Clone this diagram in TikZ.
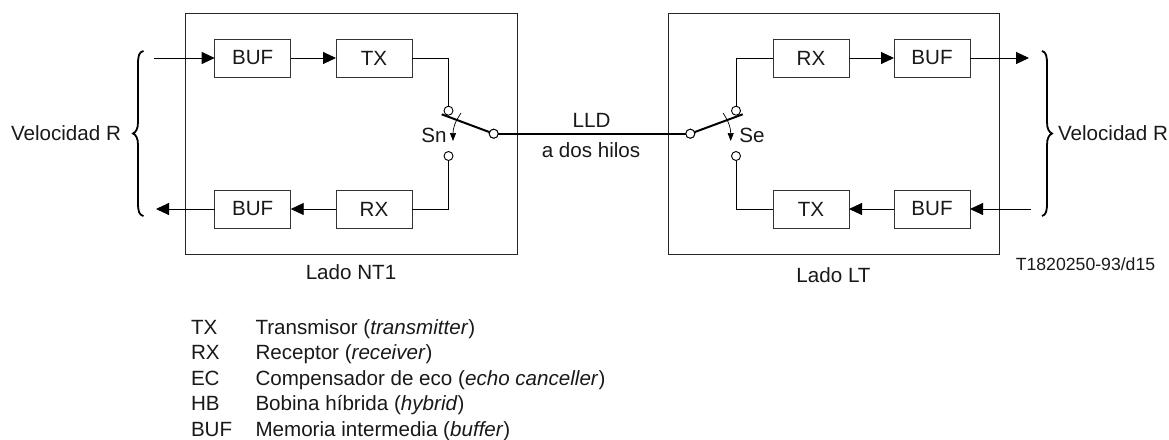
\documentclass[tikz,border=0pt]{standalone}
\usepackage{fontspec}
\setmainfont{Liberation Sans}
\usetikzlibrary{arrows.meta,calc}
\tikzset{
 x=1pt,y=-1pt,
 every node/.style={inner sep=0pt,outer sep=0pt,text=black!90},
 lab/.style={font=\fontsize{20.6}{24}\selectfont},
 frame/.style={draw=black!85,line width=.9pt},
 unit/.style={draw=black!80,line width=.9pt,minimum width=76pt,minimum height=38pt,font=\fontsize{20.6}{24}\selectfont},
 wire/.style={draw=black,line width=.9pt},
 flow/.style={wire,-{Triangle[length=13pt,width=12pt]}},
 blade/.style={draw=black,line width=2pt},
 contact/.style={circle,draw=black,fill=white,line width=.9pt,minimum size=9pt},
 actuate/.style={draw=black,line width=.7pt,-{Triangle[length=8pt,width=6pt]}},
 curly/.style={draw=black,line width=1.8pt},
}
\begin{document}
\begin{tikzpicture}
\useasboundingbox (0,0) rectangle (1169,439);
% outer frames
\node[frame,minimum width=332pt,minimum height=241.3pt] (nt) at (351.5,133.6) {};
\node[frame,minimum width=331pt,minimum height=241.3pt] (lt) at (833.5,133.6) {};
% units
\node[unit] (b1) at (252.7,58) {BUF};
\node[unit] (tx1) at (374,58) {TX};
\node[unit] (b2) at (252.7,209) {BUF};
\node[unit] (rx1) at (374,209) {RX};
\node[unit] (rx2) at (811,58) {RX};
\node[unit] (b3) at (932,58) {BUF};
\node[unit] (tx2) at (811,209) {TX};
\node[unit] (b4) at (932,209) {BUF};
% free ends
\coordinate (inL) at (154,58);
\coordinate (outL) at (156,209);
\coordinate (outR) at (1029,58);
\coordinate (inR) at (1031,209);
% contacts
\node[contact] (s1u) at (448.5,110.7) {};
\node[contact] (s1d) at (448.5,156) {};
\node[contact] (s1c) at (493.7,133.7) {};
\node[contact] (s2u) at (736,110.7) {};
\node[contact] (s2d) at (736,156) {};
\node[contact] (s2c) at (690.3,133.7) {};
\coordinate (tip1) at (441.7,114.3);
\coordinate (tip2) at (742.7,114.3);
% connectors
\draw[flow] (inL) -- (b1);
\draw[flow] (b1) -- (tx1);
\draw[flow] (rx1) -- (b2);
\draw[flow] (b2) -- (outL);
\draw[flow] (rx2) -- (b3);
\draw[flow] (b3) -- (outR);
\draw[flow] (b4) -- (tx2);
\draw[flow] (inR) -- (b4);
\draw[wire] (tx1.east) -| (s1u.north);
\draw[wire] (rx1.east) -| (s1d.south);
\draw[wire] (rx2.west) -| (s2u.north);
\draw[wire] (tx2.west) -| (s2d.south);
\draw[blade] (s1c) -- (tip1);
\draw[blade] (s2c) -- (tip2);
\draw[blade] (s1c) -- (s2c);
\node[contact] at (s1c) {};
\node[contact] at (s2c) {};
\coordinate (a1s) at (461,113);
\coordinate (a1e) at (453,141);
\coordinate (a2s) at (723,113);
\coordinate (a2e) at (730.7,141);
\draw[actuate] (a1s) .. controls (455,122) and (453,128) .. (a1e);
\draw[actuate] (a2s) .. controls (729,122) and (730.7,128) .. (a2e);
% braces
\coordinate (bl1) at (143.5,51);
\coordinate (bl2) at (143.5,216);
\coordinate (br1) at (1042,51);
\coordinate (br2) at (1042,216);
\draw[curly] (bl1) .. controls (139,52) and (138,56) .. (138,64) -- (138,122) .. controls (138,129) and (136,132) .. (133,133.5) .. controls (136,135) and (138,138) .. (138,145) -- (138,203) .. controls (138,211) and (139,215) .. (bl2);
\draw[curly] (br1) .. controls (1046,52) and (1047,56) .. (1047,64) -- (1047,122) .. controls (1047,129) and (1049,132) .. (1052,133.5) .. controls (1049,135) and (1047,138) .. (1047,145) -- (1047,203) .. controls (1047,211) and (1046,215) .. (br2);
% labels
\node[lab] (vl) at (66,133) {Velocidad R};
\node[lab] (vr) at (1113,133) {Velocidad R};
\node[lab] (sn) at (434,135) {Sn};
\node[lab] (se) at (752,135) {Se};
\node[lab] (lld) at (591.5,120) {LLD};
\node[lab] (dos) at (591,150) {a dos hilos};
\node[lab] (lnt) at (351,272) {Lado NT1};
\node[lab] (llt) at (833.5,275) {Lado LT};
\node[font=\fontsize{17.65}{20}\selectfont] (ref) at (1085.5,264) {T1820250-93/d15};
% legend
\foreach \n/\k/\t/\yy in {
 1/TX/{Transmisor (\textit{transmitter})}/334.5,
 2/RX/{Receptor (\textit{receiver})}/359.7,
 3/EC/{Compensador de eco (\textit{echo canceller})}/385,
 4/HB/{Bobina híbrida (\textit{hybrid})}/410.5,
 5/BUF/{Memoria intermedia (\textit{buffer})}/436.5}{
 \node[lab,anchor=base west] (k\n) at (191,\yy) {\k};
 \node[lab,anchor=base west] (t\n) at (255.5,\yy) {\t};
}
\end{tikzpicture}
\end{document}
